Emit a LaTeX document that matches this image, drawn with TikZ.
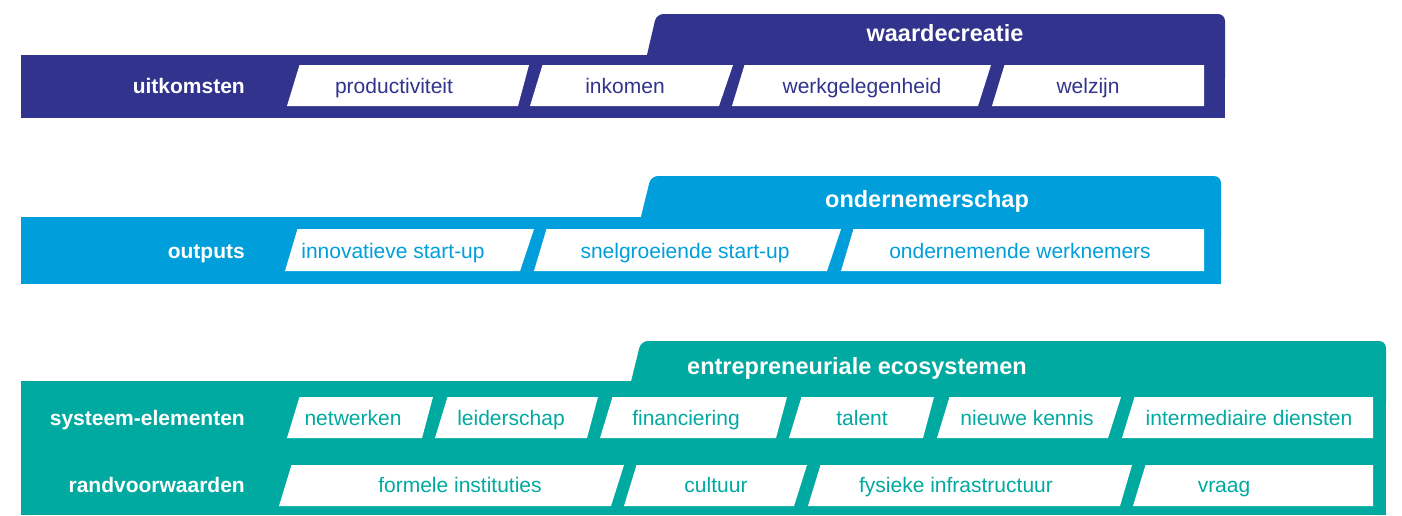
\documentclass[tikz,border=0pt]{standalone}
\usepackage{fontspec}
\setmainfont{Liberation Sans}
\definecolor{dblue}{RGB}{49,51,140}
\definecolor{lblue}{RGB}{0,158,219}
\definecolor{tealc}{RGB}{0,170,160}
% #1 y top, #2 y bottom, #3 x bottom-left, #4 x top-right, #5 x bottom-right
\newcommand\pgram[5]{\fill[boxfill] (#3,#2) -- ({#3+12.5},#1) -- (#4,#1) -- (#5,#2) -- cycle;}
\begin{document}
\begin{tikzpicture}[x=1pt,y=-1pt,
  boxfill/.style={fill=white},
  band/.style={fill=#1},
  tabshape/.style={fill=#1, rounded corners=7pt},
  item/.style={anchor=base, text=#1, inner sep=0pt, font=\fontsize{21}{25}\selectfont},
  lab/.style={anchor=base east, text=white, inner sep=0pt, font=\fontsize{21}{25}\selectfont\bfseries},
  head/.style={anchor=base, text=white, inner sep=0pt, font=\fontsize{23.5}{28}\selectfont\bfseries}]
\useasboundingbox (0,0) rectangle (1402,515);

% ---------------- band 1: waardecreatie ----------------
\fill[band=dblue] (21,55) rectangle (1225,118);
\fill[tabshape=dblue] (640,85) -- (656.5,14) -- (1225,14) -- (1225,85) -- cycle;
\pgram{65}{106}{287}{529}{518}
\pgram{65}{106}{530}{733}{719}
\pgram{65}{106}{732}{991}{978}
\pgram{65}{106}{992}{1204}{1204}
\node[head] (h1) at (945,41) {waardecreatie};
\node[lab] (l1) at (245,93) {uitkomsten};
\node[item=dblue] (a1) at (394,93) {productiviteit};
\node[item=dblue] (a2) at (625,93) {inkomen};
\node[item=dblue] (a3) at (862,93) {werkgelegenheid};
\node[item=dblue] (a4) at (1088,93) {welzijn};

% ---------------- band 2: ondernemerschap ----------------
\fill[band=lblue] (21,217) rectangle (1221,284);
\fill[tabshape=lblue] (634,245) -- (651,176) -- (1221,176) -- (1221,245) -- cycle;
\pgram{229}{271}{285}{534}{520}
\pgram{229}{271}{534}{841}{827}
\pgram{229}{271}{841}{1204}{1204}
\node[head] (h2) at (927,207) {ondernemerschap};
\node[lab] (l2) at (245,258) {outputs};
\node[item=lblue] (b1) at (393,258) {innovatieve start-up};
\node[item=lblue] (b2) at (685,258) {snelgroeiende start-up};
\node[item=lblue] (b3) at (1020,258) {ondernemende werknemers};

% ---------------- band 3: entrepreneuriale ecosystemen ----------------
\fill[band=tealc] (21,381) rectangle (1386,515);
\fill[tabshape=tealc] (624,410) -- (641,341) -- (1386,341) -- (1386,410) -- cycle;
\pgram{397}{438}{287}{433}{422}
\pgram{397}{438}{435}{598}{587}
\pgram{397}{438}{600}{787}{776}
\pgram{397}{438}{789}{934}{923}
\pgram{397}{438}{937}{1121}{1108}
\pgram{397}{438}{1122}{1373}{1373}
\pgram{465}{506}{279}{624}{611}
\pgram{465}{506}{624}{807}{794}
\pgram{465}{506}{808}{1132}{1120}
\pgram{465}{506}{1133}{1373}{1373}
\node[head] (h3) at (857,374) {entrepreneuriale ecosystemen};
\node[lab] (l3) at (245,425) {systeem-elementen};
\node[lab] (l4) at (245,492) {randvoorwaarden};
\node[item=tealc] (c1) at (353,425) {netwerken};
\node[item=tealc] (c2) at (511,425) {leiderschap};
\node[item=tealc] (c3) at (686,425) {financiering};
\node[item=tealc] (c4) at (862,425) {talent};
\node[item=tealc] (c5) at (1027,425) {nieuwe kennis};
\node[item=tealc] (c6) at (1249,425) {intermediaire diensten};
\node[item=tealc] (d1) at (460,492) {formele instituties};
\node[item=tealc] (d2) at (716,492) {cultuur};
\node[item=tealc] (d3) at (956,492) {fysieke infrastructuur};
\node[item=tealc] (d4) at (1224,492) {vraag};
\end{tikzpicture}
\end{document}
